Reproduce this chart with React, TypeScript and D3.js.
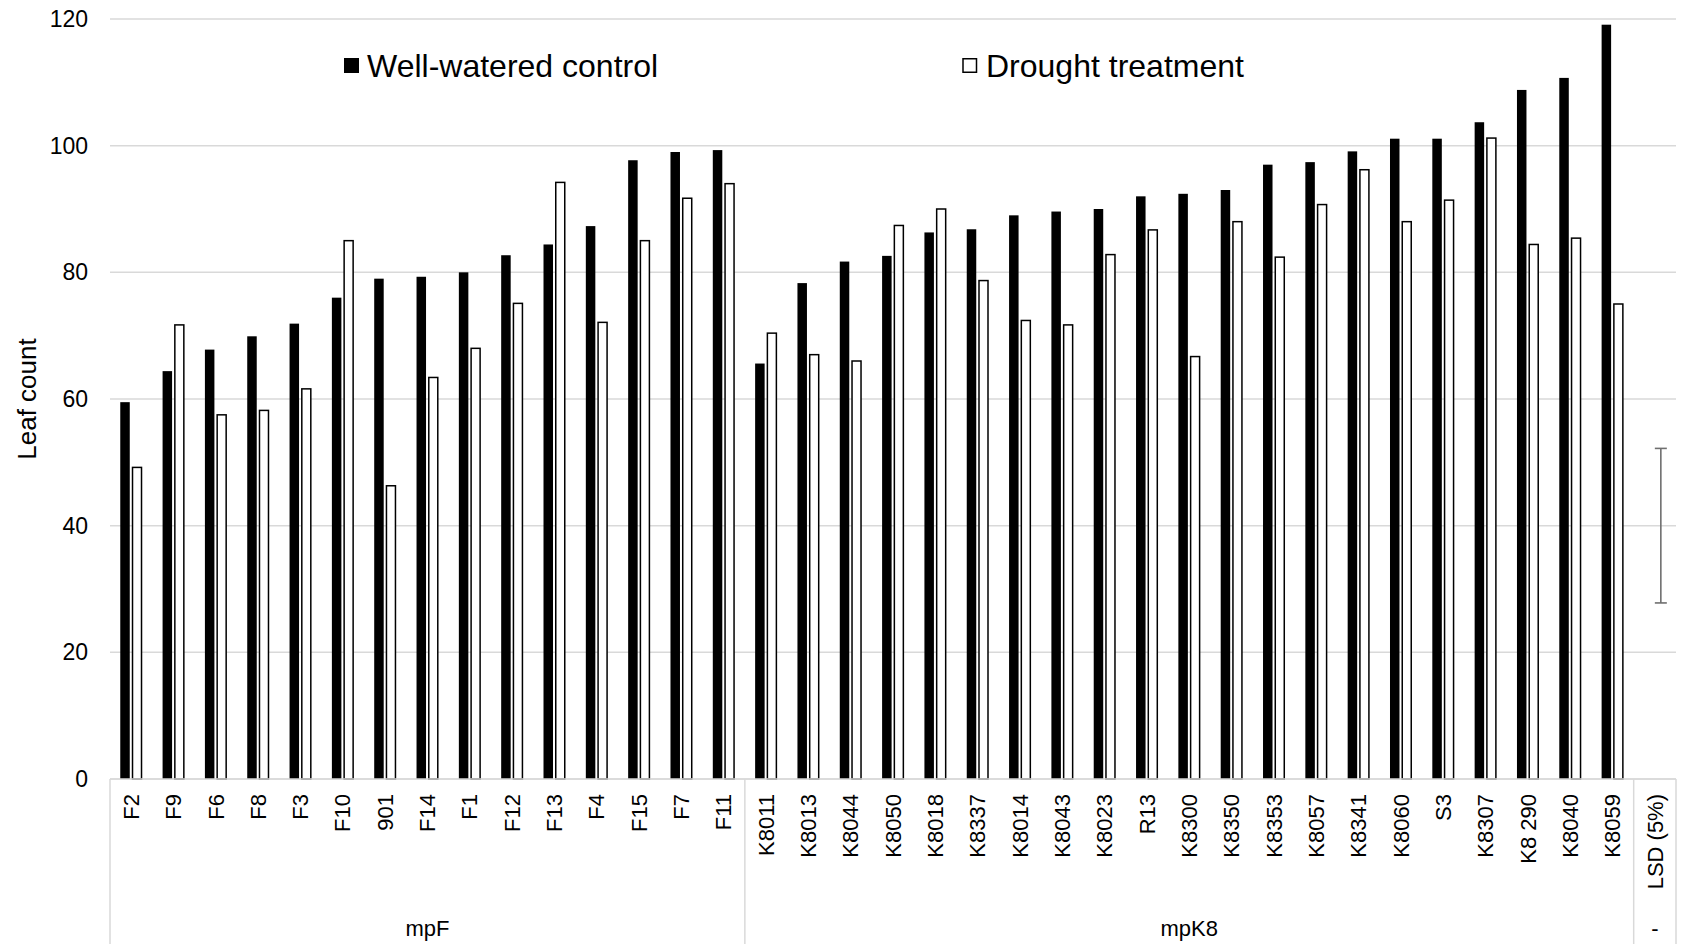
import React from "react";
import * as d3 from "d3";

// ---- data ----
const categories: string[] = [
  "F2", "F9", "F6", "F8", "F3", "F10", "901", "F14", "F1", "F12", "F13", "F4", "F15", "F7", "F11",
  "K8011", "K8013", "K8044", "K8050", "K8018", "K8337", "K8014", "K8043", "K8023", "R13", "K8300",
  "K8350", "K8353", "K8057", "K8341", "K8060", "S3", "K8307", "K8 290", "K8040", "K8059",
  "LSD (5%)",
];

const groupNames: string[] = ["mpF", "mpK8", "-"];
const groupSizes: number[] = [15, 21, 1];

const wellWatered: (number | null)[] = [
  59.5, 64.4, 67.8, 69.9, 71.9, 76.0, 79.0, 79.3, 80.0, 82.7, 84.4, 87.3, 97.7, 99.0, 99.3,
  65.6, 78.3, 81.7, 82.6, 86.3, 86.8, 89.0, 89.6, 90.0, 92.0, 92.4, 93.0, 97.0, 97.4, 99.1,
  101.1, 101.1, 103.7, 108.8, 110.7, 119.1,
  null,
];

const drought: (number | null)[] = [
  49.2, 71.7, 57.5, 58.2, 61.6, 85.0, 46.3, 63.4, 68.0, 75.1, 94.2, 72.1, 85.0, 91.7, 94.0,
  70.4, 67.0, 66.0, 87.4, 90.0, 78.7, 72.4, 71.7, 82.8, 86.7, 66.7, 88.0, 82.4, 90.7, 96.2,
  88.0, 91.4, 101.2, 84.4, 85.4, 75.0,
  null,
];

const lsdCenter = 40;
const lsdHalf = 12.2;

const yTicks: number[] = [0, 20, 40, 60, 80, 100, 120];
const seriesNames: string[] = ["Well-watered control", "Drought treatment"];

// ---- layout ----
const W = 1684;
const H = 944;
const left = 110;
const right = 1676;
const top = 19;
const bottom = 779;
const FONT = "'Liberation Sans', Arial, Helvetica, sans-serif";

export default function App() {
  const x = d3.scaleBand<string>().domain(categories).range([left, right]).padding(0);
  const y = d3.scaleLinear().domain([0, 120]).range([bottom, top]);
  const bw = x.bandwidth();
  const cx = (c: string) => (x(c) as number) + bw / 2;

  const bounds: number[] = [left];
  let acc = 0;
  groupSizes.forEach((n) => {
    acc += n;
    bounds.push(left + acc * bw);
  });

  const lsdCat = categories[categories.length - 1];
  const lsdX = cx(lsdCat) + 6;

  return (
    <svg
      width={W}
      height={H}
      style={{ position: "absolute", left: 0, top: 0, background: "#fff" }}
      fontFamily={FONT}
    >
      <rect x={0} y={0} width={W} height={H} fill="#fff" />
      {yTicks.map((t) => (
        <line key={"g" + t} x1={left} x2={right} y1={y(t)} y2={y(t)} stroke="#d9d9d9" strokeWidth={1.5} />
      ))}
      {yTicks.map((t) => (
        <text key={"t" + t} x={88} y={y(t)} dy="0.35em" textAnchor="end" fontSize={23} fill="#000">
          {t}
        </text>
      ))}
      <text
        transform={`translate(27,${(top + bottom) / 2}) rotate(-90)`}
        dy="0.35em"
        textAnchor="middle"
        fontSize={26}
        fill="#000"
      >
        Leaf count
      </text>

      {categories.map((c, i) => {
        const v1 = wellWatered[i];
        const v2 = drought[i];
        const c0 = cx(c);
        return (
          <g key={"b" + c}>
            {v1 != null && (
              <rect x={c0 - 10.9} y={y(v1)} width={9.5} height={y(0) - y(v1)} fill="#000" />
            )}
            {v2 != null && (
              <rect
                x={c0 + 1.35}
                y={y(v2)}
                width={9}
                height={y(0) - y(v2)}
                fill="#fff"
                stroke="#000"
                strokeWidth={1.5}
              />
            )}
          </g>
        );
      })}

      <g stroke="#6f6f6f" strokeWidth={1.6}>
        <line x1={lsdX} x2={lsdX} y1={y(lsdCenter + lsdHalf)} y2={y(lsdCenter - lsdHalf)} />
        <line x1={lsdX - 6} x2={lsdX + 6} y1={y(lsdCenter + lsdHalf)} y2={y(lsdCenter + lsdHalf)} />
        <line x1={lsdX - 6} x2={lsdX + 6} y1={y(lsdCenter - lsdHalf)} y2={y(lsdCenter - lsdHalf)} />
      </g>

      <line x1={left} x2={right} y1={bottom} y2={bottom} stroke="#d9d9d9" strokeWidth={1.5} />
      {bounds.map((b, i) => (
        <line key={"s" + i} x1={b} x2={b} y1={bottom} y2={H} stroke="#d9d9d9" strokeWidth={1.5} />
      ))}
      {categories.map((c) => (
        <text
          key={"c" + c}
          transform={`translate(${cx(c)},794) rotate(-90)`}
          dy="0.35em"
          textAnchor="end"
          fontSize={22}
          fill="#000"
        >
          {c}
        </text>
      ))}
      {groupNames.map((g, i) => (
        <text
          key={"gn" + g}
          x={(bounds[i] + bounds[i + 1]) / 2}
          y={936}
          textAnchor="middle"
          fontSize={22}
          fill="#000"
        >
          {g}
        </text>
      ))}

      <rect x={344} y={58} width={15} height={15} fill="#000" />
      <text x={367} y={65.5} dy="0.35em" fontSize={32} fill="#000">
        {seriesNames[0]}
      </text>
      <rect x={963} y={58.75} width={13.5} height={13.5} fill="#fff" stroke="#000" strokeWidth={1.5} />
      <text x={986} y={65.5} dy="0.35em" fontSize={32} fill="#000">
        {seriesNames[1]}
      </text>
    </svg>
  );
}
